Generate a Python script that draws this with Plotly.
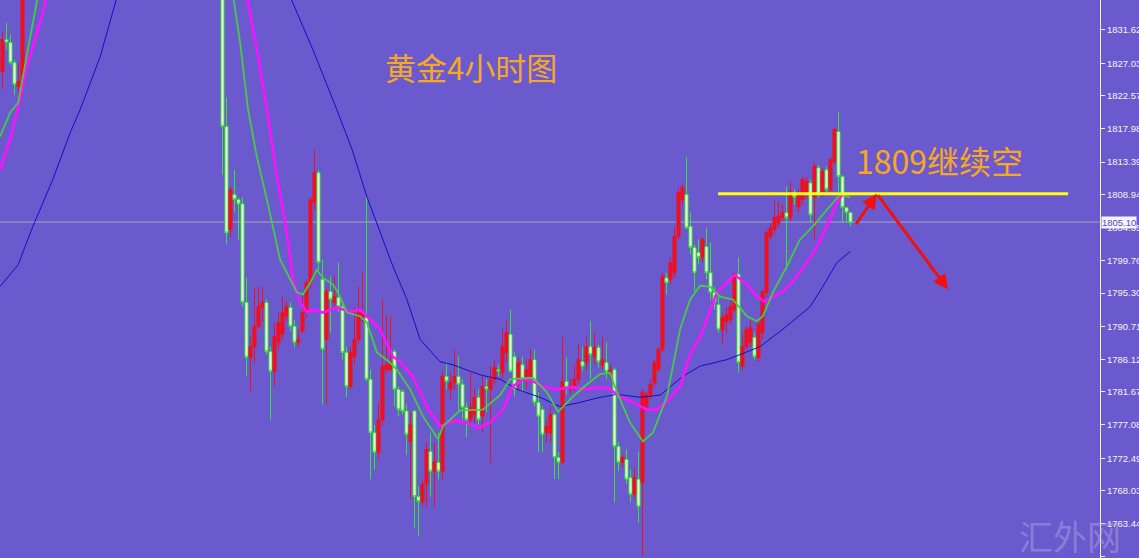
import plotly.graph_objects as go

# ---------------- data (4h gold candles) ----------------
bars = [0, 1, 2, 3, 4, 5] + list(range(55, 213))

opens = [1825.9, 1830.3, 1829.9, 1827.1, 1823.8, 1824.3,
 1842.0, 1818.3, 1804.1, 1808.9, 1808.2, 1807.6, 1794.0, 1786.4, 1787.9, 1790.7,
 1793.3, 1794.0, 1787.2, 1784.5, 1788.5, 1789.6, 1792.1, 1793.3, 1790.7, 1788.5,
 1790.0, 1792.6, 1796.7, 1807.8, 1811.9, 1797.2, 1788.9, 1795.5, 1794.0, 1794.7,
 1793.4, 1787.1, 1782.4, 1786.5, 1788.9, 1791.9, 1791.9, 1783.4, 1776.0, 1773.3,
 1777.8, 1784.7, 1784.7, 1787.2, 1782.0, 1781.7, 1779.0, 1774.8, 1779.0, 1767.2,
 1766.5, 1768.9, 1773.4, 1770.7, 1771.9, 1770.7, 1783.8, 1782.0, 1782.9, 1783.8,
 1782.7, 1779.5, 1777.8, 1778.5, 1780.9, 1778.3, 1782.4, 1782.0, 1783.4, 1784.7,
 1784.3, 1787.1, 1789.6, 1786.5, 1783.4, 1785.4, 1783.8, 1783.8, 1786.1, 1780.2,
 1779.2, 1776.0, 1776.0, 1778.5, 1772.6, 1771.9, 1783.1, 1782.0, 1782.4, 1783.4,
 1785.8, 1785.7, 1787.9, 1786.5, 1787.8, 1785.4, 1785.7, 1784.3, 1784.7, 1774.1,
 1771.9, 1772.3, 1769.8, 1767.5, 1769.6, 1769.1, 1779.6, 1781.3, 1782.9, 1784.7,
 1787.5, 1797.4, 1797.2, 1798.1, 1803.1, 1808.2, 1808.9, 1804.5, 1801.6, 1800.9,
 1800.2, 1801.7, 1798.1, 1795.4, 1793.7, 1790.3, 1791.4, 1791.6, 1793.0, 1797.9,
 1785.2, 1787.9, 1788.5, 1789.2, 1786.4, 1789.8, 1795.4, 1803.1, 1804.1, 1805.0,
 1805.7, 1806.4, 1805.7, 1809.2, 1807.2, 1808.2, 1808.9, 1810.5, 1808.6, 1812.6,
 1809.2, 1812.3, 1809.6, 1813.4, 1817.6, 1811.4, 1807.1, 1806.4]

highs = [1831.4, 1832.6, 1831.0, 1827.5, 1827.1, 1842.0,
 1843.0, 1822.3, 1809.9, 1812.3, 1808.5, 1808.5, 1797.4, 1789.3, 1796.1, 1796.2,
 1796.1, 1794.4, 1787.9, 1791.2, 1792.6, 1794.8, 1794.1, 1794.0, 1791.6, 1790.3,
 1794.8, 1797.2, 1808.6, 1815.1, 1812.3, 1799.9, 1796.1, 1797.6, 1797.6, 1799.5,
 1794.0, 1787.9, 1787.9, 1793.4, 1796.2, 1798.3, 1808.5, 1784.7, 1777.1, 1780.2,
 1794.4, 1792.3, 1792.1, 1787.5, 1782.4, 1782.0, 1779.9, 1778.8, 1779.2, 1768.6,
 1769.6, 1774.7, 1776.0, 1774.7, 1776.0, 1784.5, 1785.7, 1784.3, 1787.5, 1786.5,
 1783.4, 1780.2, 1784.3, 1782.0, 1782.0, 1783.8, 1783.4, 1785.2, 1786.1, 1785.4,
 1790.3, 1791.6, 1793.0, 1787.2, 1786.5, 1786.5, 1786.1, 1787.5, 1787.5, 1781.6,
 1779.6, 1777.8, 1779.6, 1778.8, 1773.3, 1789.2, 1786.5, 1783.4, 1785.4, 1788.2,
 1787.9, 1789.2, 1791.4, 1789.8, 1788.2, 1789.3, 1788.5, 1785.4, 1785.0, 1774.7,
 1773.0, 1773.7, 1770.9, 1771.2, 1773.4, 1782.0, 1781.7, 1783.4, 1786.1, 1787.9,
 1798.1, 1798.1, 1800.2, 1804.5, 1809.9, 1810.3, 1814.1, 1806.4, 1802.0, 1802.7,
 1803.0, 1804.3, 1802.3, 1796.2, 1794.8, 1792.6, 1793.4, 1794.7, 1798.1, 1800.2,
 1789.8, 1790.7, 1791.6, 1789.8, 1791.6, 1795.8, 1804.1, 1805.0, 1808.2, 1807.9,
 1807.5, 1810.0, 1810.7, 1809.6, 1809.6, 1811.4, 1811.4, 1811.0, 1813.4, 1813.0,
 1812.6, 1812.8, 1814.0, 1818.1, 1820.3, 1811.6, 1807.2, 1806.5]

lows = [1823.4, 1828.9, 1826.8, 1822.7, 1822.7, 1822.7,
 1811.6, 1802.0, 1803.0, 1806.4, 1802.7, 1793.4, 1783.8, 1781.7, 1785.7, 1790.3,
 1791.2, 1786.8, 1777.8, 1782.4, 1787.5, 1788.9, 1791.4, 1790.0, 1787.8, 1787.9,
 1789.8, 1791.9, 1795.8, 1806.8, 1798.5, 1779.9, 1779.9, 1789.8, 1793.4, 1792.7,
 1786.1, 1780.9, 1782.0, 1785.4, 1788.2, 1791.2, 1783.1, 1769.6, 1770.9, 1772.3,
 1776.9, 1784.1, 1784.5, 1779.6, 1778.3, 1778.5, 1773.0, 1766.8, 1762.9, 1761.7,
 1765.8, 1765.8, 1767.2, 1765.8, 1769.6, 1769.6, 1782.0, 1780.6, 1782.0, 1778.9,
 1777.8, 1775.4, 1777.4, 1777.4, 1777.1, 1776.0, 1778.8, 1771.9, 1782.7, 1783.8,
 1783.4, 1785.7, 1784.3, 1781.0, 1782.0, 1781.6, 1782.0, 1782.9, 1779.6, 1773.3,
 1773.3, 1774.7, 1774.7, 1769.6, 1769.6, 1771.6, 1781.3, 1781.3, 1781.7, 1782.7,
 1784.5, 1784.7, 1783.4, 1785.4, 1785.0, 1784.7, 1783.4, 1783.4, 1766.4, 1770.7,
 1771.2, 1768.9, 1766.4, 1766.8, 1763.6, 1758.9, 1779.2, 1780.6, 1782.3, 1784.5,
 1787.1, 1795.1, 1796.5, 1797.4, 1802.7, 1807.5, 1804.1, 1800.6, 1795.5, 1799.2,
 1799.6, 1797.2, 1794.4, 1793.0, 1789.8, 1788.2, 1789.8, 1791.0, 1792.6, 1784.3,
 1784.7, 1787.5, 1787.8, 1786.1, 1785.8, 1788.9, 1794.7, 1802.7, 1803.4, 1804.3,
 1805.2, 1798.5, 1805.2, 1807.5, 1806.5, 1807.5, 1808.2, 1805.0, 1802.7, 1808.5,
 1808.6, 1808.9, 1809.2, 1813.0, 1809.2, 1805.0, 1805.0, 1804.5]

closes = [1830.3, 1829.9, 1827.1, 1824.1, 1824.5, 1838.0,
 1818.3, 1803.6, 1809.6, 1808.2, 1807.6, 1794.0, 1786.4, 1787.9, 1790.7, 1793.4,
 1794.0, 1787.2, 1784.5, 1789.3, 1791.2, 1792.6, 1793.4, 1790.7, 1788.5, 1788.9,
 1792.6, 1796.7, 1808.2, 1811.9, 1799.5, 1787.5, 1795.5, 1794.4, 1794.8, 1793.4,
 1787.1, 1782.4, 1787.1, 1788.9, 1792.6, 1792.6, 1783.4, 1776.0, 1773.3, 1777.8,
 1785.2, 1785.4, 1785.8, 1782.0, 1779.2, 1779.0, 1775.8, 1777.1, 1767.2, 1766.5,
 1768.9, 1773.7, 1770.7, 1772.0, 1770.7, 1783.8, 1783.1, 1782.9, 1783.8, 1782.7,
 1779.5, 1777.8, 1779.5, 1780.9, 1777.8, 1782.4, 1782.0, 1783.4, 1785.0, 1784.5,
 1787.9, 1789.8, 1784.5, 1782.0, 1785.7, 1783.4, 1784.7, 1786.1, 1780.2, 1778.3,
 1775.8, 1776.9, 1778.5, 1772.6, 1771.9, 1783.1, 1782.3, 1782.4, 1783.4, 1786.1,
 1785.2, 1787.9, 1786.8, 1787.8, 1785.8, 1786.1, 1784.5, 1784.7, 1774.1, 1771.9,
 1772.6, 1769.6, 1767.5, 1769.8, 1765.8, 1781.6, 1781.3, 1782.7, 1785.7, 1787.5,
 1797.6, 1796.7, 1799.5, 1803.1, 1809.2, 1809.9, 1804.3, 1801.6, 1798.1, 1800.2,
 1802.7, 1798.1, 1795.4, 1794.1, 1790.3, 1791.9, 1792.3, 1793.4, 1797.9, 1785.7,
 1787.9, 1790.3, 1790.5, 1786.5, 1791.0, 1795.5, 1803.6, 1804.3, 1805.7, 1805.9,
 1806.4, 1805.7, 1809.3, 1808.5, 1809.2, 1811.0, 1810.7, 1806.1, 1812.8, 1808.9,
 1812.1, 1809.6, 1813.7, 1817.9, 1811.4, 1807.1, 1806.4, 1805.0]

# moving averages (bar position, price); None = off chart
ma_fast_x = [-0.6, 1.9, 3.9, 5.1, 7.6, 8.9, None,
 57.6, 59.4, 61.4, 63.6, 66.1, 69.4, 73.6, 75.1, 76.9, 78.6, 80.1, 82.6, 84.4, 86.1,
 89.4, 91.1, 93.6, 96.9, 98.6, 101.9, 105.1, 108.9, 110.1, 114.4, 120.1, 124.4, 126.9,
 132.6, 136.1, 138.9, 142.6, 146.1, 149.4, 151.9, 153.6, 156.9, 160.1, 162.6, 166.1,
 169.4, 171.9, 174.4, 176.9, 179.4, 182.6, 186.1, 188.6, 190.1, 192.6, 196.1, 199.4,
 202.6, 206.1, 209.4, 211.9]
ma_fast_y = [1816.9, 1820.2, 1821.6, 1825.2, 1832.6, 1836.5, None,
 1836.5, 1829.9, 1820.6, 1814.1, 1808.2, 1799.9, 1795.4, 1795.1, 1796.7, 1798.5, 1797.4,
 1796.5, 1794.8, 1792.6, 1792.1, 1791.2, 1787.1, 1785.7, 1784.7, 1782.0, 1778.3, 1775.1,
 1776.9, 1779.1, 1779.2, 1781.2, 1783.4, 1783.6, 1781.6, 1778.9, 1781.0, 1782.7, 1784.1,
 1784.3, 1781.6, 1777.4, 1774.8, 1776.0, 1781.0, 1790.3, 1794.4, 1796.3, 1796.2, 1794.8,
 1794.4, 1792.1, 1791.4, 1792.1, 1795.4, 1799.0, 1802.7, 1804.5, 1806.8, 1808.9, 1808.5]

ma_mid_x = [-0.6, 1.9, 4.4, 6.1, 8.6, 11.3, None,
 61.0, 63.6, 66.1, 68.6, 71.1, 72.6, 74.4, 76.1, 77.6, 80.1, 83.6, 86.9, 89.4, 91.1,
 94.4, 97.6, 99.4, 102.6, 106.1, 109.4, 113.1, 116.1, 118.9, 121.9, 125.1, 127.6, 130.1,
 132.6, 135.1, 138.6, 142.6, 146.1, 149.4, 151.9, 154.4, 157.6, 161.1, 163.6, 166.1,
 169.4, 171.9, 174.4, 178.6, 183.1, 186.1, 188.6, 190.6, 192.6, 195.1, 197.6, 201.1,
 203.6, 206.1, 208.6, 209.9]
ma_mid_y = [1812.3, 1816.5, 1822.0, 1826.6, 1831.2, 1836.5, None,
 1836.5, 1828.9, 1820.6, 1811.4, 1803.6, 1797.2, 1794.0, 1792.7, 1793.0, 1792.6, 1793.3,
 1792.7, 1793.0, 1792.1, 1790.3, 1786.5, 1785.8, 1783.8, 1779.6, 1776.9, 1777.7, 1777.4,
 1776.7, 1777.4, 1779.2, 1782.4, 1783.4, 1783.1, 1782.4, 1782.0, 1782.3, 1782.0, 1782.3,
 1782.0, 1781.0, 1780.2, 1779.2, 1779.2, 1780.3, 1782.4, 1786.8, 1789.2, 1795.4, 1797.8,
 1796.5, 1794.8, 1794.1, 1794.8, 1795.5, 1796.9, 1799.5, 1801.7, 1804.5, 1807.8, 1808.8]

ma_slow_x = [-0.6, 3.9, 7.6, 12.6, 16.9, 19.4, 24.4, 28.8, None,
 71.7, 77.6, 83.6, 87.4, 91.1, 94.4, 97.6, 101.1, 104.4, 109.4, 112.6, 116.9, 120.1,
 124.4, 128.6, 134.4, 139.4, 144.4, 149.4, 153.6, 159.4, 164.4, 170.1, 174.4, 181.1,
 184.4, 189.4, 195.1, 201.9, 205.1, 208.6, 211.9]
ma_slow_y = [1796.2, 1799.2, 1804.5, 1811.0, 1817.4, 1820.6, 1827.9, 1836.5, None,
 1836.5, 1828.9, 1820.6, 1815.1, 1808.6, 1803.6, 1799.0, 1794.4, 1788.9, 1785.8, 1785.4,
 1784.5, 1783.9, 1783.4, 1782.0, 1780.9, 1779.6, 1780.2, 1780.9, 1781.3, 1780.9, 1781.2,
 1783.8, 1785.2, 1786.1, 1786.8, 1787.9, 1790.3, 1793.4, 1796.2, 1799.5, 1801.0]

tick_vals = [1836.21, 1831.62, 1827.03, 1822.57, 1817.98, 1813.39, 1808.94, 1804.35,
             1799.76, 1795.30, 1790.71, 1786.12, 1781.67, 1777.08, 1772.49,
             1768.03, 1763.44, 1758.85]
tick_text = [f"{v:.2f}" for v in tick_vals]

bid_price = 1805.10
resist_level = 1809.0
resist_from, resist_to = 178.9, 266.4
path_start = (213.1, 1804.6)
path_peak = (218.6, 1809.0)
path_end = (236.4, 1795.8)

title_text = "黄金4小时图"
call_text = "1809继续空"
watermark = "汇外网"

# ---------------- styling ----------------
BG = "#6a5acd"
RED = "#ee1020"
CGREEN = "#2ee82e"
ORANGE = "#f7a823"

fig = go.Figure()

fig.add_trace(go.Candlestick(
    x=bars, open=opens, high=highs, low=lows, close=closes,
    increasing=dict(line=dict(color=RED, width=1), fillcolor=RED),
    decreasing=dict(line=dict(color=CGREEN, width=1), fillcolor="#f4ffe8"),
    whiskerwidth=0, hoverinfo="skip", showlegend=False,
))

fig.add_trace(go.Scatter(x=ma_slow_x, y=ma_slow_y, mode="lines",
                         line=dict(color="#1010c8", width=1), connectgaps=False,
                         hoverinfo="skip", showlegend=False))
fig.add_trace(go.Scatter(x=ma_mid_x, y=ma_mid_y, mode="lines",
                         line=dict(color="#ff10ff", width=2.6), connectgaps=False,
                         hoverinfo="skip", showlegend=False))
fig.add_trace(go.Scatter(x=ma_fast_x, y=ma_fast_y, mode="lines",
                         line=dict(color="#44cc44", width=1.8), connectgaps=False,
                         hoverinfo="skip", showlegend=False))

# bid line
fig.add_shape(type="line", xref="paper", x0=0, x1=1, yref="y", y0=bid_price, y1=bid_price,
              line=dict(color="#a8a8b8", width=1), layer="below")
# resistance line
fig.add_shape(type="line", xref="x", x0=resist_from, x1=resist_to, yref="y",
              y0=resist_level, y1=resist_level, line=dict(color="#ffff10", width=3))

# red arrows
fig.add_annotation(x=path_peak[0], y=path_peak[1], ax=path_start[0], ay=path_start[1],
                   xref="x", yref="y", axref="x", ayref="y", text="", showarrow=True,
                   arrowhead=2, arrowsize=1, arrowwidth=3, arrowcolor="#f01010")
fig.add_annotation(x=path_end[0], y=path_end[1], ax=path_peak[0], ay=path_peak[1],
                   xref="x", yref="y", axref="x", ayref="y", text="", showarrow=True,
                   arrowhead=2, arrowsize=1, arrowwidth=3, arrowcolor="#f01010")

CJK = "Noto Sans CJK SC, Noto Sans, sans-serif"
fig.add_annotation(x=0.428, y=0.880, xref="paper", yref="paper", text=title_text,
                   xanchor="center", yanchor="middle",
                   showarrow=False, font=dict(family=CJK, size=31, color=ORANGE))
fig.add_annotation(x=0.8545, y=0.713, xref="paper", yref="paper", text=call_text,
                   xanchor="center", yanchor="middle",
                   showarrow=False, font=dict(family=CJK, size=32, color=ORANGE))
fig.add_annotation(x=0.973, y=0.04, xref="paper", yref="paper", text=watermark,
                   xanchor="center", yanchor="middle",
                   showarrow=False, font=dict(family=CJK, size=34, color="rgba(190,185,230,0.40)"))

# bid price label
fig.add_annotation(x=1.0, y=bid_price, xref="paper", yref="y", xanchor="left",
                   yanchor="middle",
                   text=f"{bid_price:.2f}", showarrow=False, bgcolor="#f4f4fa",
                   borderpad=0, xshift=1,
                   font=dict(family="Liberation Sans, Arial", size=9.5, color="#5a4abd"))

fig.update_layout(
    width=1139, height=558,
    margin=dict(l=0, r=39, t=0, b=0, pad=0),
    paper_bgcolor=BG, plot_bgcolor=BG,
    showlegend=False,
    boxgap=0.15, boxgroupgap=0.1,
    xaxis=dict(range=[-0.625, 274.375], showgrid=False, zeroline=False,
               showticklabels=False, ticks="", showline=False, automargin=False,
               rangeslider=dict(visible=False), fixedrange=True),
    yaxis=dict(range=[1758.71, 1835.76], side="right", showgrid=False, zeroline=False,
               tickvals=tick_vals, ticktext=tick_text, ticks="outside", ticklen=4,
               tickcolor="#f0f0f0", showline=True, linecolor="#f0f0f0", linewidth=1,
               automargin=False,
               tickfont=dict(family="Liberation Sans, Arial", size=9.5, color="#f4f4f4"),
               fixedrange=True),
)

fig.write_html("out.html", config={"displayModeBar": False},
               post_script="document.body.style.margin='0';document.body.style.overflow='hidden';")
